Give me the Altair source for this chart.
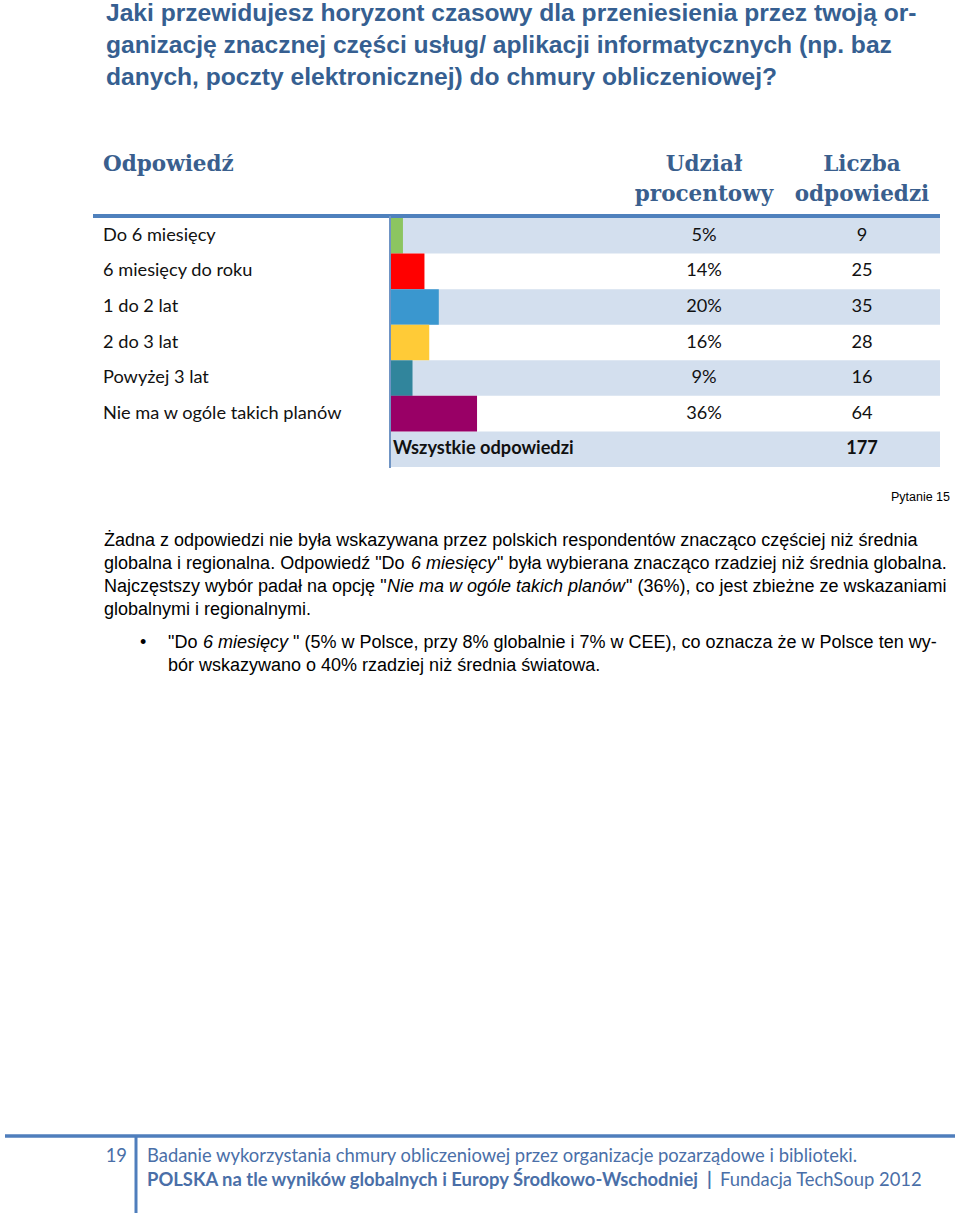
import altair as alt
import pandas as pd

# ---------------- data ----------------
categories = ["Do 6 miesięcy", "6 miesięcy do roku", "1 do 2 lat", "2 do 3 lat",
              "Powyżej 3 lat", "Nie ma w ogóle takich planów"]
shares = [5, 14, 20, 16, 9, 36]
counts = [9, 25, 35, 28, 16, 64]
total_label = "Wszystkie odpowiedzi"
total_count = 177
bar_colors = ["#8CC560", "#FF0000", "#3A97CF", "#FFCB37", "#31859C", "#990066"]

title_lines = [
    "Jaki przewidujesz horyzont czasowy dla przeniesienia przez twoją or-",
    "ganizację znacznej części usług/ aplikacji informatycznych (np. baz",
    "danych, poczty elektronicznej) do chmury obliczeniowej?",
]
header_answer = "Odpowiedź"
header_share = ["Udział", "procentowy"]
header_count = ["Liczba", "odpowiedzi"]
question_label = "Pytanie 15"
footer_page = "19"
footer_line1 = "Badanie wykorzystania chmury obliczeniowej przez organizacje pozarządowe i biblioteki."
footer_bold = "POLSKA na tle wyników globalnych i Europy Środkowo-Wschodniej"
footer_sep = "|"
footer_tail = "Fundacja TechSoup 2012"

# ---------------- layout ----------------
W, H = 960, 1217
rows = categories + [total_label]
ROW_Y = alt.Scale(domain=rows, range=[218, 467], paddingInner=0, paddingOuter=0)
SHARE_X = alt.Scale(domain=[0, 100], range=[391, 630])

table = pd.DataFrame({
    "row": rows,
    "idx": list(range(len(rows))),
    "share": shares + [None],
    "share_label": [f"{s}%" for s in shares] + [""],
    "count": [str(c) for c in counts] + [str(total_count)],
})
cats_df = table.iloc[:len(categories)]
total_df = table.iloc[len(categories):]

layers = []

# alternating row backgrounds
layers.append(
    alt.Chart(table).transform_filter("datum.idx % 2 == 0").mark_rect(color="#D3DFEE").encode(
        y=alt.Y("row:N", scale=ROW_Y, axis=None),
        x=alt.value(391), x2=alt.value(940),
    )
)

# bars
layers.append(
    alt.Chart(cats_df).mark_bar().encode(
        y=alt.Y("row:N", scale=ROW_Y, axis=None),
        x=alt.X("share:Q", scale=SHARE_X, axis=None),
        color=alt.Color("row:N", scale=alt.Scale(domain=categories, range=bar_colors), legend=None),
    )
)

TABLE_FONT = "Lato"
TS = 18.2
layers.append(
    alt.Chart(cats_df).mark_text(align="left", baseline="middle", font=TABLE_FONT, fontSize=TS, color="#111111").encode(
        y=alt.Y("row:N", scale=ROW_Y, axis=None), x=alt.value(103), text="row:N")
)
layers.append(
    alt.Chart(cats_df).mark_text(align="center", baseline="middle", font=TABLE_FONT, fontSize=TS, color="#111111").encode(
        y=alt.Y("row:N", scale=ROW_Y, axis=None), x=alt.value(704), text="share_label:N")
)
layers.append(
    alt.Chart(cats_df).mark_text(align="center", baseline="middle", font=TABLE_FONT, fontSize=TS, color="#111111").encode(
        y=alt.Y("row:N", scale=ROW_Y, axis=None), x=alt.value(862), text="count:N")
)
layers.append(
    alt.Chart(total_df).mark_text(align="left", baseline="middle", font=TABLE_FONT, fontSize=TS, fontWeight="bold", color="#111111").encode(
        y=alt.Y("row:N", scale=ROW_Y, axis=None), x=alt.value(393), text="row:N")
)
layers.append(
    alt.Chart(total_df).mark_text(align="center", baseline="middle", font=TABLE_FONT, fontSize=TS, fontWeight="bold", color="#111111").encode(
        y=alt.Y("row:N", scale=ROW_Y, axis=None), x=alt.value(862), text="count:N")
)

# rules
def rule(x1, x2, y1, y2, color, width):
    return alt.Chart(pd.DataFrame({"a": [0]})).mark_rule(color=color, strokeWidth=width).encode(
        x=alt.value(x1), x2=alt.value(x2), y=alt.value(y1), y2=alt.value(y2))

layers.append(rule(93, 940, 216, 216, "#4F81BD", 4))
layers.append(rule(390, 390, 216, 468, "#6F94C4", 2))
layers.append(rule(5, 955, 1136, 1136, "#4F7EBC", 3.5))
layers.append(rule(136, 136, 1136, 1213, "#4F7EBC", 3))

# page texts
texts = []
for i, t in enumerate(title_lines):
    texts.append((t, 106, 14 + 32 * i, "title", "left"))
texts.append((header_answer, 103, 165, "head", "left"))
texts.append((header_share[0], 704, 165, "head", "center"))
texts.append((header_share[1], 704, 195, "head", "center"))
texts.append((header_count[0], 862, 165, "head", "center"))
texts.append((header_count[1], 862, 195, "head", "center"))
texts.append((question_label, 950, 497, "small", "right"))

body = [
    ("Żadna z odpowiedzi nie była wskazywana przez polskich respondentów znacząco częściej niż średnia", 104, 541, "body"),
    ('globalna i regionalna. Odpowiedź "Do', 104, 564, "body"),
    ("6 miesięcy", 411, 564, "ital"),
    ('" była wybierana znacząco rzadziej niż średnia globalna.', 497, 564, "body"),
    ('Najczęstszy wybór padał na opcję "', 104, 587, "body"),
    ("Nie ma w ogóle takich planów", 387, 587, "ital"),
    ('" (36%), co jest zbieżne ze wskazaniami', 626, 587, "body"),
    ("globalnymi i regionalnymi.", 104, 610, "body"),
    ("•", 140, 643, "body"),
    ('"Do', 168, 643, "body"),
    ("6 miesięcy", 203, 643, "ital"),
    ('" (5% w Polsce, przy 8% globalnie i 7% w CEE), co oznacza że w Polsce ten wy-', 293, 643, "body"),
    ("bór wskazywano o 40% rzadziej niż średnia światowa.", 168, 666, "body"),
]
for t, x, y, s in body:
    texts.append((t, x, y, s, "left"))

texts.append((footer_page, 127, 1156, "foot", "right"))
texts.append((footer_line1, 147, 1156, "foot", "left"))
texts.append((footer_bold, 147, 1180, "footb", "left"))
texts.append((footer_sep, 707, 1180, "footb", "left"))
texts.append((footer_tail, 720, 1180, "foot", "left"))

tdf = pd.DataFrame(texts, columns=["text", "x", "y", "style", "align"])

styles = {
    "title": dict(font="Liberation Sans", fontSize=24.6, fontWeight="bold", color="#365F91"),
    "head": dict(font="DejaVu Serif", fontSize=21.5, fontWeight="bold", color="#3A5F8E"),
    "small": dict(font="Liberation Sans", fontSize=12.5, color="#000000"),
    "body": dict(font="Liberation Sans", fontSize=18, color="#000000"),
    "ital": dict(font="Liberation Sans", fontSize=18, fontStyle="italic", color="#000000"),
    "foot": dict(font="Lato", fontSize=18.4, color="#4A6FA8"),
    "footb": dict(font="Lato", fontSize=18.4, fontWeight="bold", color="#4A6FA8"),
}

for (s, a), sub in tdf.groupby(["style", "align"]):
    layers.append(
        alt.Chart(sub).mark_text(align=a, baseline="middle", **styles[s]).encode(
            x=alt.X("x:Q", scale=None, axis=None),
            y=alt.Y("y:Q", scale=None, axis=None),
            text="text:N",
        )
    )

chart = alt.layer(*layers).resolve_scale(
    x="independent", y="independent", color="independent"
).properties(
    width=W, height=H, padding=0, autosize="none", background="white"
).configure_view(stroke=None)

chart.save("out.html", embed_options={"renderer": "svg", "actions": False})
